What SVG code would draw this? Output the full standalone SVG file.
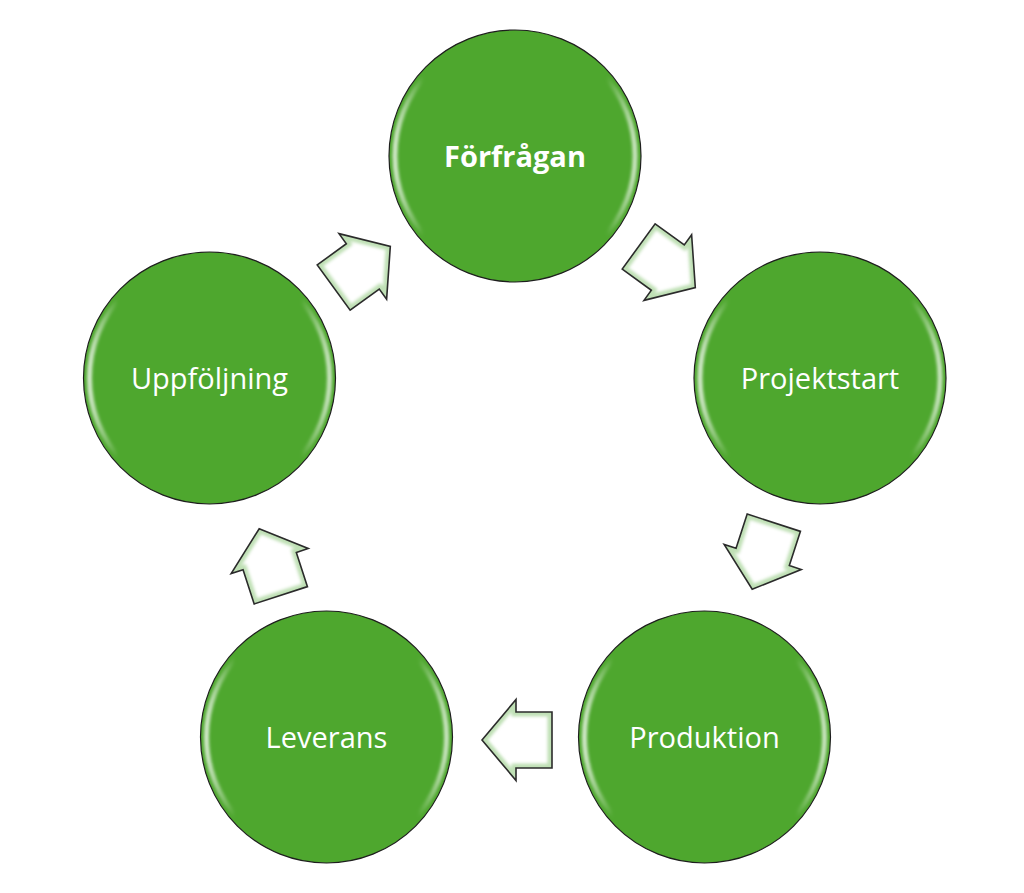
<svg xmlns="http://www.w3.org/2000/svg" width="1024" height="893" viewBox="0 0 1024 893">
<style>
.node circle.body{fill:#4EA72E;stroke:#1e1e1e;stroke-width:1.2}
.node circle.gloss{fill:none;stroke:url(#gloss);stroke-width:5;filter:url(#soft)}
.node text{fill:#ffffff;font-family:"Open Sans","Noto Sans",sans-serif;font-size:29px;text-anchor:middle}
.node text.b{font-weight:bold}
.arr .fill{fill:#ffffff}
.arr .bevel{fill:none;stroke:#bfe0b5;stroke-width:9;clip-path:url(#arrClip);filter:url(#soft)}
.arr .edge{fill:none;stroke:#2b2b2b;stroke-width:1.6;stroke-linejoin:miter}
</style>
<defs>
<path id="arrow" d="M-35,-28 L1,-28 L1,-40.5 L35,0 L1,40.5 L1,28 L-35,28 Z"/>
<clipPath id="arrClip"><use href="#arrow"/></clipPath>
<linearGradient id="gloss" x1="0" y1="0" x2="1" y2="0">
<stop offset="0" stop-color="#ffffff" stop-opacity="0.75"/>
<stop offset="0.12" stop-color="#ffffff" stop-opacity="0"/>
<stop offset="0.88" stop-color="#ffffff" stop-opacity="0"/>
<stop offset="1" stop-color="#ffffff" stop-opacity="0.7"/>
</linearGradient>
<filter id="soft" x="-20%" y="-20%" width="140%" height="140%"><feGaussianBlur stdDeviation="1.5"/></filter>
</defs>
<g id="connectors">
<g class="arr" transform="translate(362,267) rotate(-36)"><use class="fill" href="#arrow"/><use class="bevel" href="#arrow"/><use class="edge" href="#arrow"/></g>
<g class="arr" transform="translate(667,267) rotate(36)"><use class="fill" href="#arrow"/><use class="bevel" href="#arrow"/><use class="edge" href="#arrow"/></g>
<g class="arr" transform="translate(763,556) rotate(108)"><use class="fill" href="#arrow"/><use class="bevel" href="#arrow"/><use class="edge" href="#arrow"/></g>
<g class="arr" transform="translate(517,740) rotate(180)"><use class="fill" href="#arrow"/><use class="bevel" href="#arrow"/><use class="edge" href="#arrow"/></g>
<g class="arr" transform="translate(270,562) rotate(252)"><use class="fill" href="#arrow"/><use class="bevel" href="#arrow"/><use class="edge" href="#arrow"/></g>
</g>
<g id="forfragan" class="node"><circle class="body" cx="515" cy="156" r="126"/><circle class="gloss" cx="515" cy="156" r="120"/><text class="b" x="515" y="167">Förfrågan</text></g>
<g id="projektstart" class="node"><circle class="body" cx="820" cy="378" r="126"/><circle class="gloss" cx="820" cy="378" r="120"/><text x="820" y="389">Projektstart</text></g>
<g id="produktion" class="node"><circle class="body" cx="704.5" cy="737" r="126"/><circle class="gloss" cx="704.5" cy="737" r="120"/><text x="704.5" y="748">Produktion</text></g>
<g id="leverans" class="node"><circle class="body" cx="326.5" cy="737" r="126"/><circle class="gloss" cx="326.5" cy="737" r="120"/><text x="326.5" y="748">Leverans</text></g>
<g id="uppfoljning" class="node"><circle class="body" cx="209.5" cy="378" r="126"/><circle class="gloss" cx="209.5" cy="378" r="120"/><text x="209.5" y="389">Uppföljning</text></g>
</svg>
